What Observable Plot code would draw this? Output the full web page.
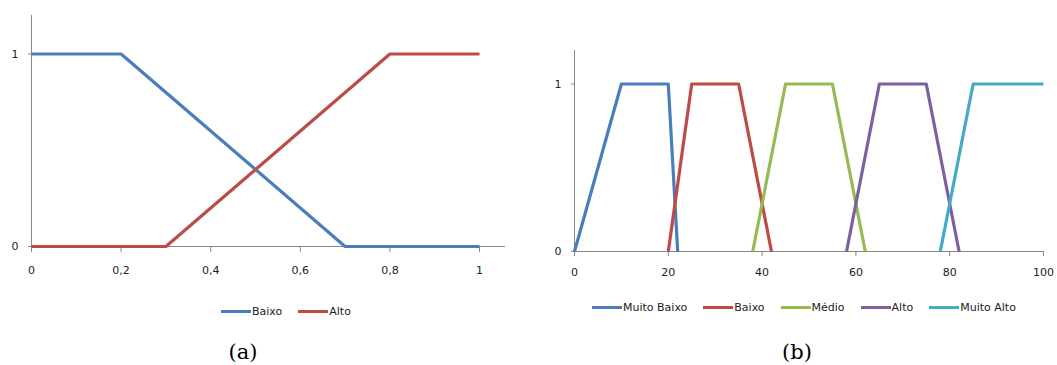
<!DOCTYPE html>
<html>
<head>
<meta charset="utf-8">
<script src="https://cdn.jsdelivr.net/npm/d3@7"></script>
<script src="https://cdn.jsdelivr.net/npm/@observablehq/plot@0.6"></script>
<style>
  html, body { margin: 0; padding: 0; background: #fff; }
  #root { position: relative; width: 1057px; height: 365px; overflow: hidden; background: #fff; font-family: "DejaVu Sans", sans-serif; }
  .panel { position: absolute; top: 0; }
  .legend { position: absolute; display: flex; align-items: center; font-size: 11px; color: #222; white-space: nowrap; }
  .legend .item { display: flex; align-items: center; margin-right: 16px; }
  .legend .swatch { display: inline-block; width: 30px; height: 3px; margin-right: 1px; }
  .caption { position: absolute; font-family: "DejaVu Serif", "Liberation Serif", serif; font-size: 21px; color: #000; transform: translate(-50%, -50%); }
</style>
</head>
<body>
<div id="root"></div>
<script>
// ---- Panel (a) data ----
const aSeries = ["Baixo", "Alto"];
const aColors = ["#4A7EBB", "#BE4B48"];
const aBaixoX = [0, 0.2, 0.7, 1];
const aBaixoY = [1, 1, 0, 0];
const aAltoX = [0, 0.3, 0.8, 1];
const aAltoY = [0, 0, 1, 1];
const aXTicks = [0, 0.2, 0.4, 0.6, 0.8, 1];
const aYTicks = [0, 1];

// ---- Panel (b) data ----
const bSeries = ["Muito Baixo", "Baixo", "Médio", "Alto", "Muito Alto"];
const bColors = ["#4A7EBB", "#BE4B48", "#98B954", "#7D60A0", "#46AAC5"];
const bMuitoBaixoX = [0, 10, 20, 22];
const bMuitoBaixoY = [0, 1, 1, 0];
const bBaixoX = [20, 25, 35, 42];
const bBaixoY = [0, 1, 1, 0];
const bMedioX = [38, 45, 55, 62];
const bMedioY = [0, 1, 1, 0];
const bAltoX = [58, 65, 75, 82];
const bAltoY = [0, 1, 1, 0];
const bMuitoAltoX = [78, 85, 100];
const bMuitoAltoY = [0, 1, 1];
const bXTicks = [0, 20, 40, 60, 80, 100];
const bYTicks = [0, 1];

const captions = ["(a)", "(b)"];

function rows(name, xs, ys) { return xs.map((x, i) => ({series: name, x, y: ys[i]})); }

const aData = [...rows("Baixo", aBaixoX, aBaixoY), ...rows("Alto", aAltoX, aAltoY)];
const bData = [
  ...rows("Muito Baixo", bMuitoBaixoX, bMuitoBaixoY),
  ...rows("Baixo", bBaixoX, bBaixoY),
  ...rows("Médio", bMedioX, bMedioY),
  ...rows("Alto", bAltoX, bAltoY),
  ...rows("Muito Alto", bMuitoAltoX, bMuitoAltoY)
];

const root = document.getElementById("root");
const axisGray = "#868686";
const fmtComma = d => String(d).replace(".", ",");
const fmtPlain = d => String(d);

function panel(opts) {
  const chart = Plot.plot({
    width: opts.width, height: 290,
    marginLeft: opts.ml, marginRight: opts.mr, marginTop: opts.mt, marginBottom: opts.mb,
    style: {fontFamily: "DejaVu Sans, sans-serif", fontSize: "11px", background: "transparent", color: "#222"},
    x: {domain: opts.xDomain},
    y: {domain: [0, 1.2]},
    color: {domain: opts.series, range: opts.colors},
    marks: [
      Plot.ruleY([0], {stroke: axisGray, strokeWidth: 1}),
      Plot.ruleX([0], {stroke: axisGray, strokeWidth: 1}),
      Plot.axisX({ticks: opts.xTicks, tickSize: opts.xTickSize, tickPadding: opts.xPad, tickFormat: opts.fmt, stroke: axisGray, fill: "#222", label: null}),
      Plot.axisY({ticks: opts.yTicks, tickSize: 3, tickPadding: 10, tickFormat: fmtPlain, stroke: axisGray, fill: "#222", label: null}),
      Plot.line(opts.data, {x: "x", y: "y", z: "series", stroke: "series", strokeWidth: 3.2, strokeLinejoin: "round", strokeLinecap: "butt"})
    ]
  });
  chart.classList.add("panel");
  chart.style.left = opts.left + "px";
  root.appendChild(chart);

  const lg = document.createElement("div");
  lg.className = "legend";
  lg.style.left = opts.legendX + "px";
  lg.style.top = (opts.legendY - 7) + "px";
  lg.style.height = "14px";
  opts.series.forEach((s, i) => {
    const it = document.createElement("div");
    it.className = "item";
    const sw = document.createElement("span");
    sw.className = "swatch";
    sw.style.background = opts.colors[i];
    const tx = document.createElement("span");
    tx.textContent = s;
    it.appendChild(sw); it.appendChild(tx);
    lg.appendChild(it);
  });
  root.appendChild(lg);

  const cap = document.createElement("div");
  cap.className = "caption";
  cap.style.left = opts.capX + "px";
  cap.style.top = "352px";
  cap.textContent = opts.caption;
  root.appendChild(cap);
}

panel({
  width: 530, left: 0, ml: 31, mr: 25, mt: 15, mb: 44,
  xDomain: [0, 1.058], xTicks: aXTicks, yTicks: aYTicks, fmt: fmtComma, xTickSize: 6, xPad: 14,
  series: aSeries, colors: aColors, data: aData,
  legendX: 221, legendY: 311, capX: 243, caption: captions[0]
});

panel({
  width: 527, left: 530, ml: 44, mr: 14, mt: 50, mb: 39,
  xDomain: [0, 100], xTicks: bXTicks, yTicks: bYTicks, fmt: fmtPlain, xTickSize: 5, xPad: 12,
  series: bSeries, colors: bColors, data: bData,
  legendX: 592, legendY: 307, capX: 797, caption: captions[1]
});
</script>
</body>
</html>
